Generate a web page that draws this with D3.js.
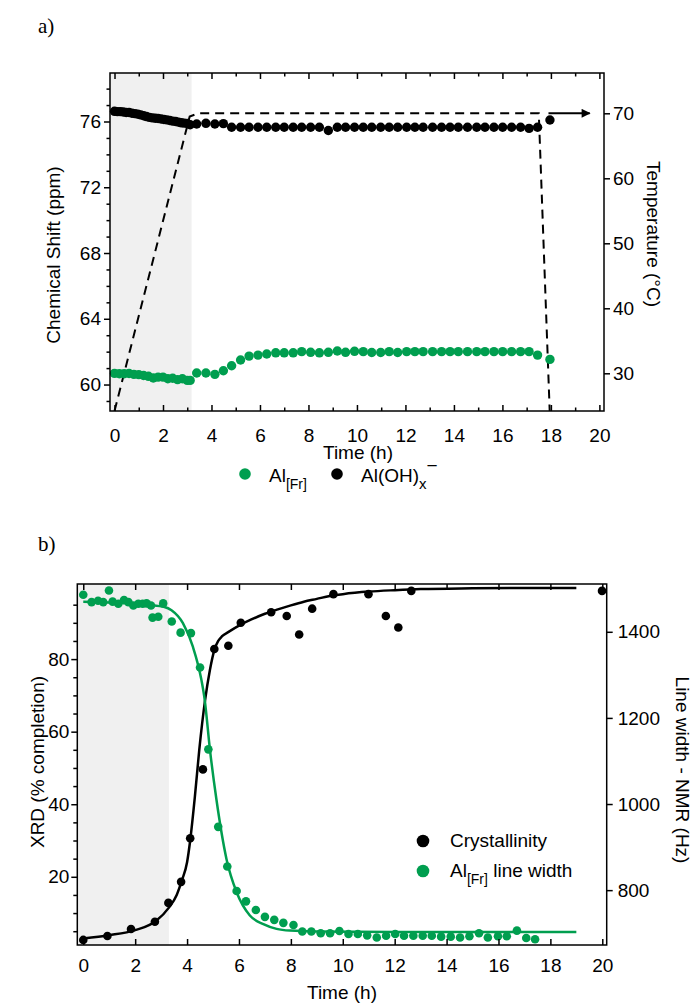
<!DOCTYPE html>
<html>
<head>
<meta charset="utf-8">
<script src="https://cdn.jsdelivr.net/npm/d3@7"></script>
<style>
  body { margin: 0; background: #fff; }
  svg { display: block; }
</style>
</head>
<body>
<div id="chart"></div>
<script>
// ---------- panel a data ----------
const timeTicksA = [0, 2, 4, 6, 8, 10, 12, 14, 16, 18, 20];
const shiftTicks = [60, 64, 68, 72, 76];
const tempTicks = [30, 40, 50, 60, 70];

// temperature program (dashed) and the arrow pointing on
const tempTime = [0, 3.1, 3.45, 17.5, 17.95];
const tempValue = [24.2, 69.5, 70, 70, 24.2];
const arrowTime = [17.9, 19.6];

// Al(OH)x- during heating (dense)
const ohHeatTime = [0, 0.12, 0.24, 0.36, 0.48, 0.6, 0.72, 0.84, 0.96, 1.08, 1.2, 1.32, 1.44, 1.56,
  1.68, 1.8, 1.92, 2.04, 2.16, 2.28, 2.4, 2.52, 2.64, 2.76, 2.88, 3.0, 3.12];
const ohHeat = [76.62, 76.6, 76.6, 76.58, 76.55, 76.55, 76.5, 76.48, 76.45, 76.4, 76.35, 76.3, 76.25, 76.22,
  76.2, 76.18, 76.15, 76.12, 76.1, 76.06, 76.02, 76.0, 75.96, 75.92, 75.9, 75.88, 75.8];

// Al[Fr] during heating
const frHeatTime = [0, 0.2, 0.4, 0.6, 0.8, 1.0, 1.2, 1.4, 1.6, 1.8, 2.0, 2.2, 2.4, 2.6, 2.8, 3.0, 3.12];
const frHeat = [60.68, 60.66, 60.66, 60.67, 60.62, 60.6, 60.55, 60.5, 60.4, 60.45, 60.45, 60.35, 60.38,
  60.3, 60.35, 60.25, 60.25];

// both species after heating
const holdTime = [3.39, 3.77, 4.14, 4.49, 4.83, 5.2, 5.55, 5.92, 6.28, 6.65, 7.0, 7.37, 7.72, 8.09,
  8.45, 8.82, 9.19, 9.53, 9.9, 10.26, 10.61, 10.98, 11.33, 11.68, 12.05, 12.39, 12.73, 13.12, 13.49,
  13.84, 14.18, 14.56, 14.94, 15.28, 15.65, 16.01, 16.38, 16.75, 17.1, 17.45, 17.96];
const frHold = [60.7, 60.7, 60.62, 60.84, 61.14, 61.49, 61.73, 61.79, 61.86, 61.93, 61.93, 61.93, 62.0,
  61.96, 61.93, 61.96, 62.04, 61.96, 62.02, 62.0, 61.95, 61.95, 62.0, 61.95, 62.0, 62.0, 62.0, 62.0,
  62.0, 62.0, 62.0, 62.0, 62.0, 62.0, 62.0, 62.0, 62.0, 62.0, 62.0, 61.79, 61.53];
const ohHold = [75.85, 75.89, 75.85, 75.87, 75.65, 75.65, 75.65, 75.65, 75.65, 75.65, 75.65, 75.65,
  75.65, 75.65, 75.65, 75.45, 75.65, 75.65, 75.65, 75.65, 75.65, 75.65, 75.65, 75.65, 75.65, 75.65,
  75.65, 75.65, 75.65, 75.65, 75.65, 75.65, 75.65, 75.65, 75.65, 75.65, 75.65, 75.65, 75.58, 75.65, 76.09];

const heatEndA = 3.18;

// ---------- panel b data ----------
const timeTicksB = [0, 2, 4, 6, 8, 10, 12, 14, 16, 18, 20];
const xrdTicks = [20, 40, 60, 80];
const lwTicks = [800, 1000, 1200, 1400];

const xrdTime = [0, 0.93, 1.84, 2.76, 3.28, 3.77, 4.12, 4.61, 5.05, 5.59, 6.07, 7.24, 7.84, 8.32, 8.82,
  9.64, 10.99, 11.66, 12.14, 12.64, 19.99];
const xrdValue = [2.6, 3.7, 5.6, 7.6, 12.8, 18.6, 30.6, 49.6, 82.8, 83.7, 90, 92.9, 91.9, 86.8, 93.9,
  97.9, 97.9, 91.9, 88.7, 98.8, 98.8];
const xrdFitTime = [0, 1, 2, 2.8, 3.3, 3.6, 3.8, 4.0, 4.12, 4.3, 4.47, 4.69, 4.88, 5.05, 5.2, 5.35, 5.6,
  6.07, 6.5, 7, 7.5, 8, 8.5, 9, 9.5, 10, 11, 12, 13, 15, 17, 19];
const xrdFitValue = [3.0, 3.9, 5.3, 7.8, 11.5, 15, 19, 24, 30, 42, 55, 68.5, 77, 82.5, 85, 86.3, 87.5,
  89.5, 91, 92.5, 93.7, 94.8, 95.8, 96.6, 97.4, 97.9, 98.6, 99.0, 99.3, 99.5, 99.6, 99.6];

const lwTime = [0, 0.32, 0.57, 0.77, 0.99, 1.13, 1.35, 1.57, 1.74, 1.93, 2.12, 2.29, 2.44, 2.61, 2.67,
  2.89, 3.08, 3.41, 3.75, 4.15, 4.5, 4.82, 5.2, 5.55, 5.91, 6.27, 6.65, 7.0, 7.36, 7.71, 8.1, 8.44,
  8.79, 9.15, 9.51, 9.87, 10.22, 10.58, 10.94, 11.31, 11.67, 12.02, 12.36, 12.72, 13.08, 13.43, 13.79,
  14.16, 14.52, 14.88, 15.25, 15.59, 15.98, 16.32, 16.71, 17.07, 17.41];
const lwValue = [1486, 1469, 1472, 1469, 1496, 1470, 1465, 1474, 1469, 1461, 1465, 1465, 1466, 1461, 1433,
  1435, 1466, 1424, 1398, 1397, 1317, 1127, 947, 855, 798, 774, 754, 738, 731, 724, 719, 704, 704,
  700, 700, 705, 698, 698, 695, 690, 694, 698, 694, 694, 694, 694, 692, 692, 690, 693, 700, 690, 693,
  693, 706, 689, 686];
const lwFitTime = [0, 1, 2, 2.6, 3.1, 3.4, 3.84, 4.22, 4.55, 4.68, 4.88, 5.13, 5.52, 5.91, 6.42, 6.94,
  7.45, 7.96, 9, 12, 15, 19];
const lwFitValue = [1470, 1468, 1465, 1462, 1458, 1450, 1420, 1366, 1289, 1242, 1127, 1011, 872, 795,
  741, 721, 710, 706, 704, 703, 703, 703];

const heatEndB = 3.3;

// ---------- setup ----------
const W = 698, H = 1007;
const SANS = "'Liberation Sans', Arial, Helvetica, sans-serif";
const SERIF = "'Liberation Serif', 'Times New Roman', serif";
const GREEN = "#009e4f";
const SHADE = "#f0f0f0";
const FS = 19;

const svg = d3.select("#chart").append("svg")
    .attr("width", W)
    .attr("height", H)
    .attr("viewBox", `0 0 ${W} ${H}`);

svg.append("rect").attr("width", W).attr("height", H).attr("fill", "#fff");

function styleAxis(g) {
  g.select(".domain").remove();
  g.selectAll("line").attr("stroke", "#000").attr("stroke-width", 1.5);
  g.selectAll("text")
    .attr("font-family", SANS)
    .attr("font-size", FS)
    .attr("fill", "#000");
}

function minors(lo, hi, step, majors) {
  const out = [];
  for (let v = lo; v <= hi + 1e-9; v += step) {
    const r = Math.round(v * 100) / 100;
    if (!majors.includes(r)) out.push(r);
  }
  return out;
}

function title(x, y, rot, txt) {
  return svg.append("text")
    .attr("transform", `translate(${x},${y}) rotate(${rot})`)
    .attr("text-anchor", "middle")
    .attr("font-family", SANS).attr("font-size", FS)
    .text(txt);
}

// ================= panel a =================
const a = { left: 110, right: 604, top: 73, bottom: 411 };

const xA = d3.scaleLinear().domain([-0.186, 20.19]).range([a.left, a.right]);
const yA = d3.scaleLinear().domain([58.39, 78.95]).range([a.bottom, a.top]);
const tA = d3.scaleLinear().domain([24.2, 76.2]).range([a.bottom, a.top]);

svg.append("rect")
    .attr("x", a.left).attr("y", a.top)
    .attr("width", xA(heatEndA) - a.left).attr("height", a.bottom - a.top)
    .attr("fill", SHADE);

// temperature program
svg.append("path")
    .datum(d3.zip(tempTime, tempValue))
    .attr("d", d3.line().x(d => xA(d[0])).y(d => tA(d[1])))
    .attr("fill", "none")
    .attr("stroke", "#000")
    .attr("stroke-width", 2)
    .attr("stroke-dasharray", "9,6");

svg.append("defs").append("marker")
    .attr("id", "arrowhead")
    .attr("viewBox", "0 0 10 10")
    .attr("refX", 9).attr("refY", 5)
    .attr("markerWidth", 5).attr("markerHeight", 4.5)
    .attr("orient", "auto")
    .attr("markerUnits", "strokeWidth")
  .append("path")
    .attr("d", "M0,0 L10,5 L0,10 Z")
    .attr("fill", "#000");

svg.append("line")
    .attr("x1", xA(arrowTime[0])).attr("x2", xA(arrowTime[1]))
    .attr("y1", tA(70)).attr("y2", tA(70))
    .attr("stroke", "#000").attr("stroke-width", 2)
    .attr("marker-end", "url(#arrowhead)");

// points
const rA = 4.7;
svg.append("g").selectAll("circle")
    .data(d3.zip(ohHeatTime.concat(holdTime), ohHeat.concat(ohHold)))
    .join("circle")
    .attr("cx", d => xA(d[0])).attr("cy", d => yA(d[1])).attr("r", rA)
    .attr("fill", "#000");

svg.append("g").selectAll("circle")
    .data(d3.zip(frHeatTime.concat(holdTime), frHeat.concat(frHold)))
    .join("circle")
    .attr("cx", d => xA(d[0])).attr("cy", d => yA(d[1])).attr("r", rA)
    .attr("fill", GREEN);

// axes
svg.append("g").attr("transform", `translate(0,${a.bottom})`)
    .call(d3.axisBottom(xA).tickValues(timeTicksA).tickSize(-6).tickPadding(18).tickFormat(d3.format("d")))
    .call(styleAxis);
svg.append("g").attr("transform", `translate(0,${a.bottom})`)
    .call(d3.axisBottom(xA).tickValues(minors(1, 19, 2, [])).tickSize(-3.5).tickFormat(""))
    .call(styleAxis);
svg.append("g").attr("transform", `translate(0,${a.top})`)
    .call(d3.axisTop(xA).tickValues(timeTicksA).tickSize(-6).tickFormat(""))
    .call(styleAxis);
svg.append("g").attr("transform", `translate(0,${a.top})`)
    .call(d3.axisTop(xA).tickValues(minors(1, 19, 2, [])).tickSize(-3.5).tickFormat(""))
    .call(styleAxis);

svg.append("g").attr("transform", `translate(${a.left},0)`)
    .call(d3.axisLeft(yA).tickValues(shiftTicks).tickSize(6).tickPadding(3).tickFormat(d3.format("d")))
    .call(styleAxis);
svg.append("g").attr("transform", `translate(${a.left},0)`)
    .call(d3.axisLeft(yA).tickValues(minors(59, 78, 1, shiftTicks)).tickSize(3.5).tickFormat(""))
    .call(styleAxis);

svg.append("g").attr("transform", `translate(${a.right},0)`)
    .call(d3.axisRight(tA).tickValues(tempTicks).tickSize(6).tickPadding(3).tickFormat(d3.format("d")))
    .call(styleAxis);

svg.append("rect")
    .attr("x", a.left).attr("y", a.top)
    .attr("width", a.right - a.left).attr("height", a.bottom - a.top)
    .attr("fill", "none").attr("stroke", "#000").attr("stroke-width", 1.5);

// titles
svg.append("text")
    .attr("x", 38).attr("y", 33)
    .attr("font-family", SERIF).attr("font-size", 21)
    .text("a)");

title(358, 459, 0, "Time (h)");
title(60, 255, -90, "Chemical Shift (ppm)");
title(647, 234, 90, "Temperature (°C)");

// legend a
const legA = svg.append("g").attr("font-family", SANS).attr("font-size", FS);
legA.append("circle").attr("cx", 245).attr("cy", 474).attr("r", 5.8).attr("fill", GREEN);
const la1 = legA.append("text").attr("x", 269).attr("y", 482);
la1.append("tspan").text("Al");
la1.append("tspan").attr("dy", 7).attr("font-size", 14).text("[Fr]");
legA.append("circle").attr("cx", 337).attr("cy", 474).attr("r", 5.8).attr("fill", "#000");
const la2 = legA.append("text").attr("x", 361).attr("y", 482);
la2.append("tspan").text("Al(OH)");
la2.append("tspan").attr("dy", 7).attr("font-size", 15).text("x");
la2.append("tspan").attr("dy", -17).attr("font-size", 19).text("\u2212");

// ================= panel b =================
const b = { left: 77.3, right: 606.7, top: 584, bottom: 945 };

const xB = d3.scaleLinear().domain([-0.23, 20.17]).range([b.left, b.right]);
const yB = d3.scaleLinear().domain([1.2, 100.7]).range([b.bottom, b.top]);
const lwB = d3.scaleLinear().domain([672.6, 1511]).range([b.bottom, b.top]);

svg.append("rect")
    .attr("x", b.left).attr("y", b.top)
    .attr("width", xB(heatEndB) - b.left).attr("height", b.bottom - b.top)
    .attr("fill", SHADE);

svg.append("path")
    .datum(d3.zip(xrdFitTime, xrdFitValue))
    .attr("d", d3.line().curve(d3.curveMonotoneX).x(d => xB(d[0])).y(d => yB(d[1])))
    .attr("fill", "none").attr("stroke", "#000").attr("stroke-width", 2.5);

svg.append("path")
    .datum(d3.zip(lwFitTime, lwFitValue))
    .attr("d", d3.line().curve(d3.curveMonotoneX).x(d => xB(d[0])).y(d => lwB(d[1])))
    .attr("fill", "none").attr("stroke", GREEN).attr("stroke-width", 2.5);

const rB = 4.3;
svg.append("g").selectAll("circle")
    .data(d3.zip(lwTime, lwValue))
    .join("circle")
    .attr("cx", d => xB(d[0])).attr("cy", d => lwB(d[1])).attr("r", rB)
    .attr("fill", GREEN);

svg.append("g").selectAll("circle")
    .data(d3.zip(xrdTime, xrdValue))
    .join("circle")
    .attr("cx", d => xB(d[0])).attr("cy", d => yB(d[1])).attr("r", rB)
    .attr("fill", "#000");

svg.append("g").attr("transform", `translate(0,${b.bottom})`)
    .call(d3.axisBottom(xB).tickValues(timeTicksB).tickSize(-6).tickPadding(14).tickFormat(d3.format("d")))
    .call(styleAxis);
svg.append("g").attr("transform", `translate(0,${b.top})`)
    .call(d3.axisTop(xB).tickValues(timeTicksB).tickSize(-6).tickFormat(""))
    .call(styleAxis);

svg.append("g").attr("transform", `translate(${b.left},0)`)
    .call(d3.axisLeft(yB).tickValues(xrdTicks).tickSize(6).tickPadding(2).tickFormat(d3.format("d")))
    .call(styleAxis);
svg.append("g").attr("transform", `translate(${b.left},0)`)
    .call(d3.axisLeft(yB).tickValues(minors(5, 95, 5, xrdTicks)).tickSize(4).tickFormat(""))
    .call(styleAxis);

svg.append("g").attr("transform", `translate(${b.right},0)`)
    .call(d3.axisRight(lwB).tickValues(lwTicks).tickSize(6).tickPadding(5).tickFormat(d3.format("d")))
    .call(styleAxis);

svg.append("rect")
    .attr("x", b.left).attr("y", b.top)
    .attr("width", b.right - b.left).attr("height", b.bottom - b.top)
    .attr("fill", "none").attr("stroke", "#000").attr("stroke-width", 1.5);

svg.append("text")
    .attr("x", 38).attr("y", 551)
    .attr("font-family", SERIF).attr("font-size", 21)
    .text("b)");

title(342, 999, 0, "Time (h)");
title(44, 762, -90, "XRD (% completion)");
title(676, 770, 90, "Line width - NMR (Hz)");

// legend b
const legB = svg.append("g").attr("font-family", SANS).attr("font-size", FS);
legB.append("circle").attr("cx", 423).attr("cy", 841).attr("r", 6.3).attr("fill", "#000");
legB.append("text").attr("x", 450).attr("y", 847).text("Crystallinity");
legB.append("circle").attr("cx", 423).attr("cy", 871).attr("r", 6.3).attr("fill", GREEN);
const lb = legB.append("text").attr("x", 450).attr("y", 877);
lb.append("tspan").text("Al");
lb.append("tspan").attr("dy", 7).attr("font-size", 14).text("[Fr]");
lb.append("tspan").attr("dy", -7).text(" line width");
</script>
</body>
</html>
